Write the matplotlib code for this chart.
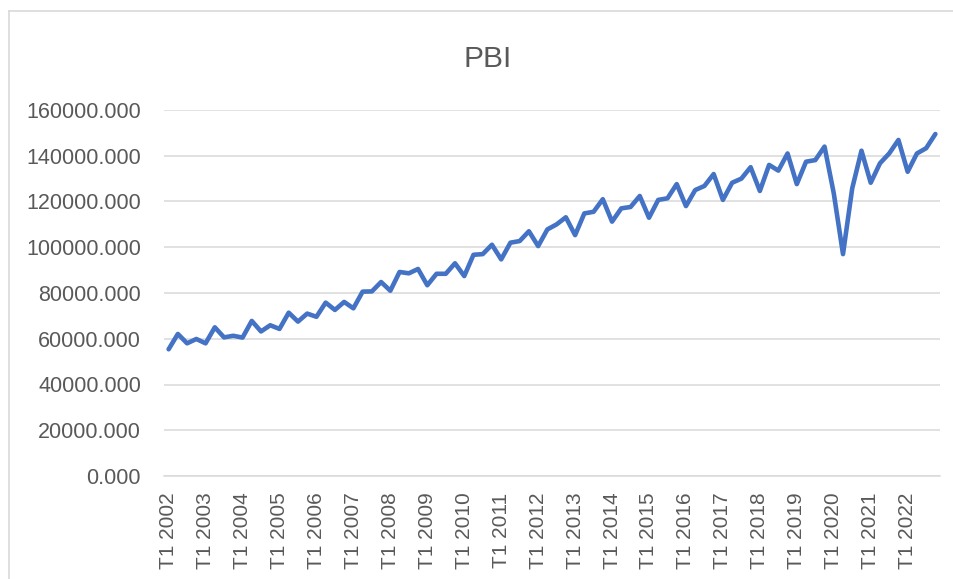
import numpy as np
import matplotlib.pyplot as plt
from matplotlib.lines import Line2D

# Quarterly PBI, T1 2002 .. T4 2022
pbi = [55400, 62100, 58000, 59900,
       58000, 65000, 60600, 61300,
       60500, 67800, 63200, 65900,
       64300, 71400, 67500, 71000,
       69600, 75800, 72600, 76100,
       73300, 80600, 80700, 84800,
       81000, 89200, 88600, 90500,
       83400, 88400, 88400, 93000,
       87400, 96700, 97000, 101100,
       94700, 102000, 102700, 107000,
       100500, 107800, 110000, 113100,
       105300, 114800, 115500, 121000,
       111200, 117000, 117600, 122400,
       112900, 120700, 121400, 127600,
       118000, 125000, 126800, 132000,
       120700, 128200, 130000, 135000,
       124600, 136000, 133500, 141000,
       127600, 137400, 138100, 144000,
       123600, 97000, 125800, 142200,
       128200, 136700, 141000, 146900,
       133000, 141000, 143300, 149500]

tick_labels = ["T1 2002", "T1 2003", "T1 2004", "T1 2005", "T1 2006",
               "T1 2007", "T1 2008", "T1 2009", "T1 2010", "T1 2011",
               "T1 2012", "T1 2013", "T1 2014", "T1 2015", "T1 2016",
               "T1 2017", "T1 2018", "T1 2019", "T1 2020", "T1 2021",
               "T1 2022"]
y_ticks = [0, 20000, 40000, 60000, 80000, 100000, 120000, 140000, 160000]

plt.rcParams['font.family'] = ['Liberation Sans', 'DejaVu Sans']
W, H = 954, 579
fig = plt.figure(figsize=(W/100, H/100), dpi=100)
ax = fig.add_axes([164/W, (H-476)/H, (940-164)/W, (476-110)/H])

x = np.arange(len(pbi))
ax.plot(x, pbi, color="#4472C4", lw=3.3, solid_joinstyle="round",
        solid_capstyle="round", zorder=3)

ax.set_xlim(-0.5, len(pbi) - 0.5)
ax.set_ylim(0, 160000)
ax.set_yticks(y_ticks)
ax.set_yticklabels(["%.3f" % v for v in y_ticks])
ax.set_xticks(x[::4])
ax.set_xticklabels(tick_labels, rotation=90)
ax.tick_params(axis="y", length=0, pad=16.5, labelsize=15.5, labelcolor="#595959")
ax.tick_params(axis="x", length=0, pad=12, labelsize=15, labelcolor="#595959")
ax.grid(axis="y", color="#D9D9D9", lw=1.1)
ax.set_axisbelow(True)
for s in ["top", "right", "left"]:
    ax.spines[s].set_visible(False)
ax.spines["bottom"].set_color("#D9D9D9")
ax.spines["bottom"].set_linewidth(1.1)

fig.text(487.5/W, 1 - 66.7/H, "PBI", ha="center", va="baseline",
         fontsize=21.5, color="#595959")

# chart area border (left and top edges visible)
fig.add_artist(Line2D([9/W, 9/W], [0, 1 - 11/H], color="#D9D9D9", lw=1.2))
fig.add_artist(Line2D([9/W, 1], [1 - 11/H, 1 - 11/H], color="#D9D9D9", lw=1.2))

fig.savefig("out.png", dpi=100)
